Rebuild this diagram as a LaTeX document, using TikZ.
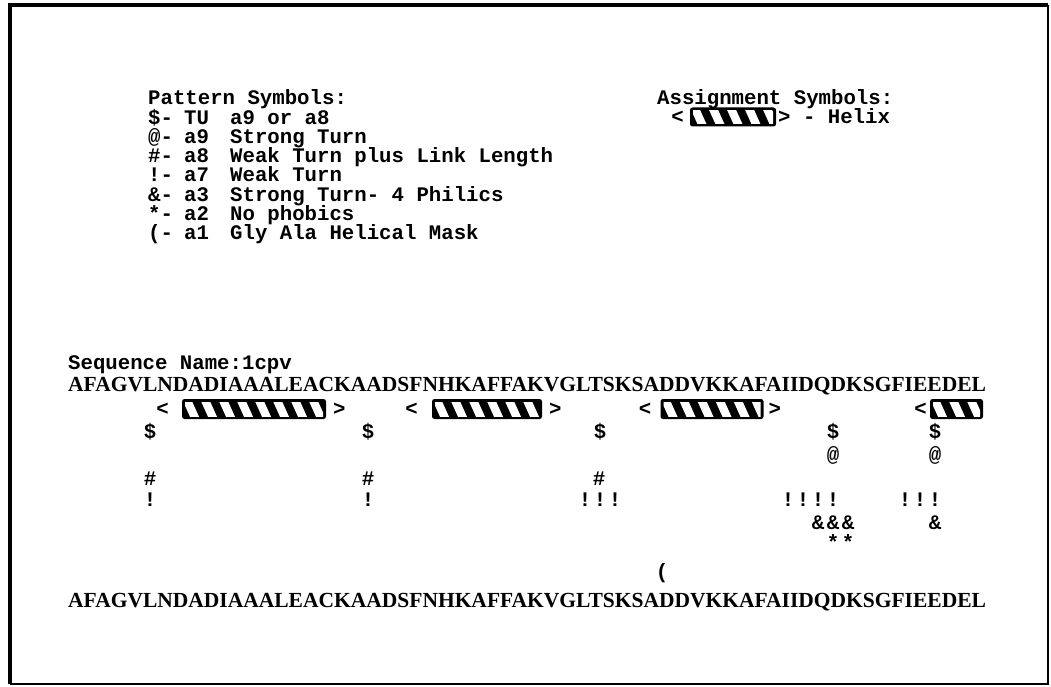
\documentclass[tikz,border=0pt]{standalone}
\usepackage{fontspec}
\usetikzlibrary{positioning}

\newfontfamily\printfont{Liberation Mono}
\newfontfamily\seqfont{Liberation Serif}

\tikzset{
  monotxt/.style={font=\printfont\bfseries\fontsize{20.7}{20.7}\selectfont, inner sep=0pt, text height=13.6pt, text depth=0pt},
  seqtxt/.style={font=\seqfont\bfseries\fontsize{21.5}{21.5}\selectfont, inner sep=0pt, anchor=west, text height=14pt, text depth=0pt},
  helixbar/.style={fill=black, rounded corners=2.5pt, minimum height=20pt, inner sep=0pt, outer sep=0pt,
    path picture={
      \clip[sharp corners] ([shift={(3pt,3pt)}]path picture bounding box.south west)
        rectangle ([shift={(-3pt,-3pt)}]path picture bounding box.north east);
      \foreach \k in {-1,...,9}
        \fill[white, sharp corners] ([xshift=\k*18pt]path picture bounding box.north west)
          -- ++(9pt,0pt) -- ++(9pt,-20pt) -- ++(-9pt,0pt) -- cycle;
    }}
}

\begin{document}
\begin{tikzpicture}[x=1pt, y=-1pt]
  \path[use as bounding box, fill=white] (0,0) rectangle (1051,687);
  % frame
  \draw[line width=1.2pt] (1048,5) -- (1048,684) -- (10,684);
  \draw[line width=3.5pt] (10,684) -- (10,5) -- (1048,5);

  % pattern legend
  \node[monotxt, anchor=west] (pathead) at (148,98) {Pattern Symbols:};
  \foreach \sy/\cd/\ds [count=\i] in {\$/TU/a9 or a8, @/a9/Strong Turn, \#/a8/Weak Turn plus Link Length,
      !/a7/Weak Turn, \&/a3/Strong Turn- 4 Philics, */a2/No phobics, {(}/a1/Gly Ala Helical Mask}{
    \node[monotxt, anchor=west] (sym\i) at (148,98+19.3*\i) {\sy-};
    \node[monotxt, anchor=west] (code\i) at (184,98+19.3*\i) {\cd};
    \node[monotxt, anchor=west] (desc\i) at (230,98+19.3*\i) {\ds};
  }

  % assignment legend
  \node[monotxt, anchor=west] (asshead) at (657,98) {Assignment Symbols:};
  \node[helixbar, minimum width=86pt, minimum height=19pt] (hkey) at (733,117) {};
  \node[monotxt, left=6pt of hkey] (hkeyl) {<};
  \node[monotxt, right=2pt of hkey] (hkeyr) {> - Helix};

  % sequence and helices
  \node[monotxt, anchor=west] (seqname) at (68,363) {Sequence Name:1cpv};
  \node[seqtxt] (seqtop) at (68,384) {AFAGVLNDADIAAALEACKAADSFNHKAFFAKVGLTSKSADDVKKAFAIIDQDKSGFIEEDEL};

  \node[helixbar, minimum width=144pt] (h1) at (254,409) {};
  \node[helixbar, minimum width=110pt] (h2) at (487,409) {};
  \node[helixbar, minimum width=103pt] (h3) at (712,409) {};
  \node[helixbar, minimum width=53pt] (h4) at (956.5,409) {};
  \node[monotxt, left=13pt of h1] (h1l) {<};
  \node[monotxt, right=7pt of h1] (h1r) {>};
  \node[monotxt, left=14pt of h2] (h2l) {<};
  \node[monotxt, right=7pt of h2] (h2r) {>};
  \node[monotxt, left=9pt of h3] (h3l) {<};
  \node[monotxt, right=5pt of h3] (h3r) {>};
  \node[monotxt, left=3pt of h4] (h4l) {<};

  % pattern hits
  \foreach \x [count=\i] in {150,368,600,833,935}
    \node[monotxt] (tu\i) at (\x,432) {\$};
  \foreach \x [count=\i] in {833,935}
    \node[monotxt] (st\i) at (\x,455) {@};
  \foreach \x [count=\i] in {150,368,599}
    \node[monotxt] (ll\i) at (\x,479) {\#};
  \foreach \x [count=\i] in {150,368,585,600,615,788,803,818,833,905,920,935}
    \node[monotxt] (wt\i) at (\x,500) {!};
  \foreach \x [count=\i] in {818,833,848,935}
    \node[monotxt] (ph\i) at (\x,523) {\&};
  \foreach \x [count=\i] in {833,848}
    \node[monotxt] (np\i) at (\x,543) {*};
  \node[monotxt] (mask) at (662,572) {(};

  \node[seqtxt] (seqbot) at (68,600) {AFAGVLNDADIAAALEACKAADSFNHKAFFAKVGLTSKSADDVKKAFAIIDQDKSGFIEEDEL};
\end{tikzpicture}
\end{document}
